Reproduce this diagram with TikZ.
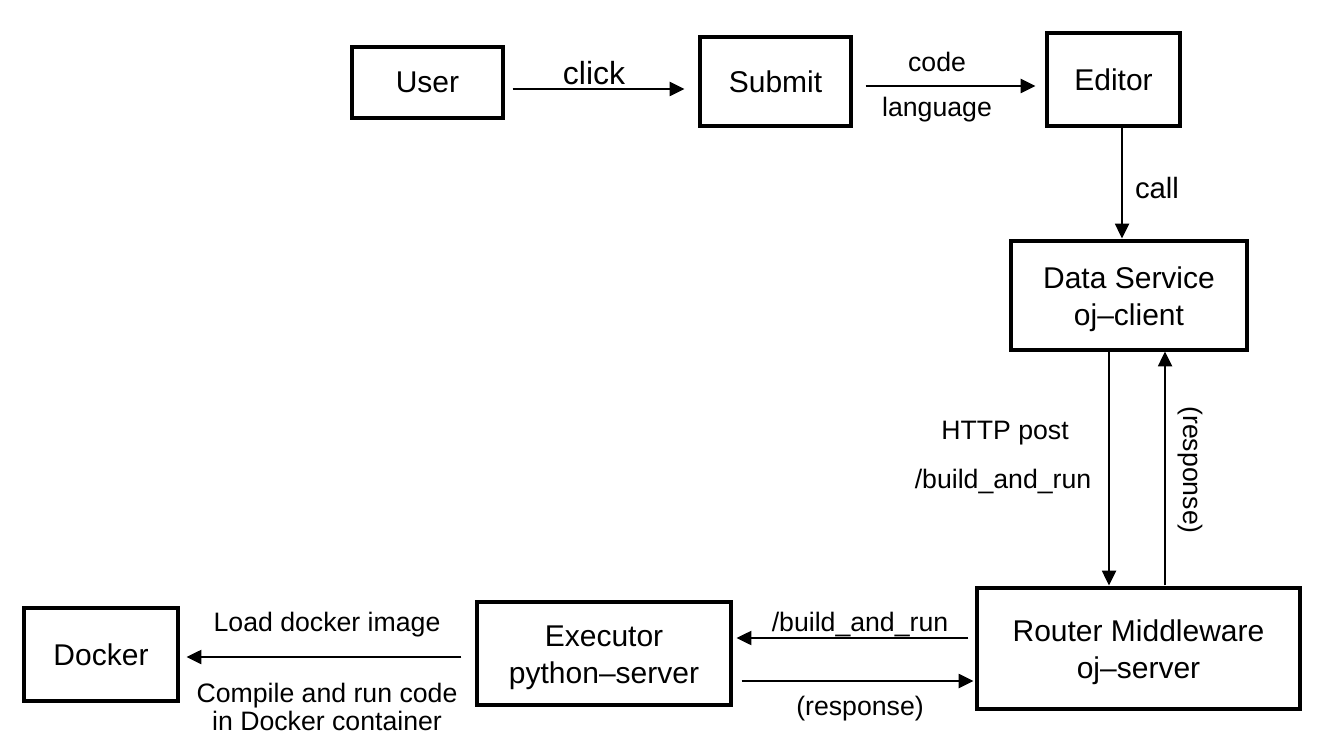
\documentclass[tikz,border=0pt]{standalone}
\usepackage{fontspec}
\setmainfont{Liberation Sans}
\usetikzlibrary{arrows.meta}
\begin{document}
\begin{tikzpicture}[x=0.75pt,y=-0.75pt,
  box/.style={draw,line width=2.4pt,inner sep=0pt,align=center,
    font=\fontsize{22.5}{28}\selectfont},
  twoline/.style={text depth=-3pt},
  arr/.style={line width=1.4pt,-{Triangle[length=11pt,width=10.5pt]}},
  lbl/.style={inner sep=0pt,align=center,font=\fontsize{20}{22}\selectfont}]
\useasboundingbox (0,0) rectangle (1339,752);
% boxes
\node[box,minimum width=151*0.75pt,minimum height=71*0.75pt] (user) at (427.5,82.5) {User};
\node[box,minimum width=151*0.75pt,minimum height=89*0.75pt] (submit) at (775.5,81.5) {Submit};
\node[box,minimum width=133*0.75pt,minimum height=93*0.75pt] (editor) at (1113.5,79.5) {Editor};
\node[box,minimum width=236*0.75pt,minimum height=109*0.75pt] (data) at (1129,295.5) {};
\node[box,minimum width=323*0.75pt,minimum height=121*0.75pt] (router) at (1138.5,648.5) {};
\node[box,minimum width=254*0.75pt,minimum height=103*0.75pt] (exec) at (604,653.5) {};
\node[box,minimum width=154*0.75pt,minimum height=93*0.75pt] (docker) at (101,654.5) {Docker};
\node[box,draw=none] (datatext) at ([shift={(0,4)}]data.center) {Data Service\\oj–client};
\node[box,draw=none] (routertext) at ([shift={(0,4)}]router.center) {Router Middleware\\oj–server};
\node[box,draw=none] (exectext) at ([shift={(0,4)}]exec.center) {Executor\\python–server};
% connectors
\draw[arr] ([shift={(8,6.5)}]user.east) -- ([shift={(-14,7.5)}]submit.west);
\draw[arr] ([shift={(13,4.5)}]submit.east) -- ([shift={(-10,6.5)}]editor.west);
\draw[arr] ([shift={(8.5,0)}]editor.south) -- ([shift={(-7,-1)}]data.north);
\draw[arr] ([shift={(-20,0)}]data.south) -- ([shift={(-29.5,-1)}]router.north);
\draw[arr] ([shift={(26.5,-1)}]router.north) -- ([shift={(36,0)}]data.south);
\draw[arr] ([shift={(-7,-10.5)}]router.west) -- ([shift={(4,-15.5)}]exec.east);
\draw[arr] ([shift={(9,27.5)}]exec.east) -- ([shift={(-2,32.5)}]router.west);
\draw[arr] ([shift={(-14,3.5)}]exec.west) -- ([shift={(7,2.5)}]docker.east);
% labels
\node[lbl,font=\fontsize{24}{26}\selectfont] (lclick) at (594,73) {click};
\node[lbl] (lcode) at (937,62) {code};
\node[lbl] (llang) at (937,110) {language};
\node[lbl,font=\fontsize{22}{24}\selectfont] (lcall) at (1157,188) {call};
\node[lbl] (lhttp) at (1005,433) {HTTP post};
\node[lbl] (lbar1) at (1003,481) {/build\_and\_run};
\node[lbl,rotate=-90] (lresp1) at (1190,470) {(response)};
\node[lbl] (lbar2) at (860,624) {/build\_and\_run};
\node[lbl] (lresp2) at (860,709) {(response)};
\node[lbl] (lload) at (327,625) {Load docker image};
\node[lbl,font=\fontsize{20}{21.5}\selectfont] (lcomp) at (327,707) {Compile and run code\\in Docker container};
\end{tikzpicture}
\end{document}
